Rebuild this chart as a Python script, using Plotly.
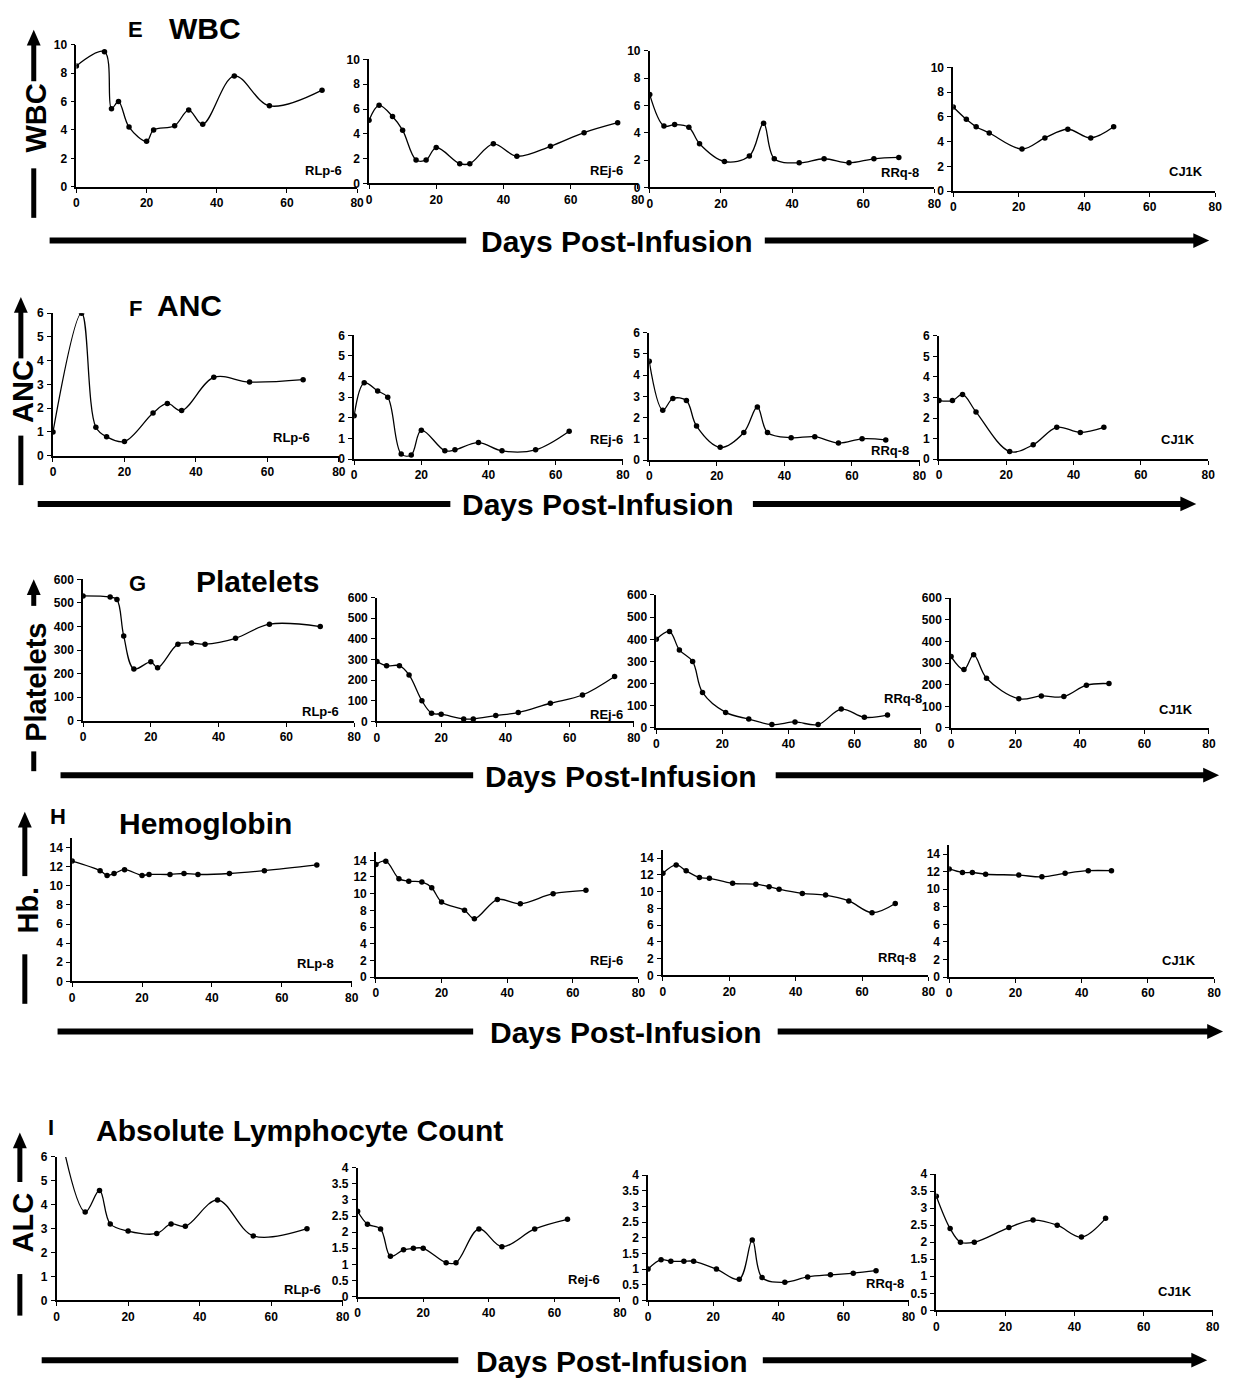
import plotly.graph_objects as go

W, H = 1237, 1383

# ---------------- DATA ----------------
days_rlp = [0, 8, 10, 12, 15, 20, 22, 28, 32, 36, 45, 55, 70]
days_rlp_short = [0, 8, 12, 15, 20, 28, 32, 36, 45, 55, 70]
days_rej14 = [0, 3, 7, 10, 14, 17, 20, 27, 30, 37, 44, 54, 64, 74]
days_rej13 = [0, 3, 7, 10, 14, 17, 20, 27, 30, 37, 44, 54, 64]
days_rrq = [0, 4, 7, 11, 14, 21, 28, 32, 35, 42, 49, 56, 63, 70]
days_rrq_plt = [0, 4, 7, 11, 14, 21, 28, 35, 42, 49, 56, 63, 70]
days_cj1k = [0, 4, 7, 11, 21, 28, 35, 42, 49]

# E  WBC
wbc_rlp = [8.5, 9.5, 5.5, 6.0, 4.2, 3.2, 4.0, 4.3, 5.4, 4.4, 7.8, 5.7, 6.8]
wbc_rej = [5.1, 6.3, 5.4, 4.3, 1.9, 1.9, 2.9, 1.6, 1.6, 3.2, 2.2, 3.0, 4.1, 4.9]
wbc_rrq = [6.8, 4.5, 4.6, 4.4, 3.2, 1.9, 2.3, 4.7, 2.1, 1.8, 2.1, 1.8, 2.1, 2.2]
wbc_cj1k = [6.8, 5.8, 5.2, 4.7, 3.4, 4.3, 5.0, 4.3, 5.2]

# F  ANC
anc_rlp = [1.0, 6.0, 1.2, 0.8, 0.6, 1.8, 2.2, 1.9, 3.3, 3.1, 3.2]
anc_rej = [2.1, 3.7, 3.3, 3.0, 0.25, 0.2, 1.4, 0.4, 0.45, 0.8, 0.4, 0.45, 1.35]
anc_rrq = [4.65, 2.35, 2.9, 2.8, 1.6, 0.6, 1.3, 2.5, 1.3, 1.05, 1.1, 0.8, 1.0, 0.95]
anc_cj1k = [2.85, 2.85, 3.15, 2.3, 0.37, 0.7, 1.55, 1.3, 1.55]

# G  Platelets
plt_rlp = [530, 525, 515, 360, 220, 250, 225, 325, 330, 325, 350, 410, 400]
plt_rej = [290, 270, 270, 225, 100, 40, 35, 12, 12, 28, 43, 88, 128, 218]
plt_rrq = [400, 435, 352, 300, 160, 70, 40, 15, 27, 15, 85, 48, 58]
plt_cj1k = [330, 270, 338, 230, 135, 148, 145, 198, 205]

# H  Hemoglobin
hb_rlp = [12.6, 11.6, 11.1, 11.3, 11.7, 11.1, 11.2, 11.2, 11.3, 11.2, 11.3, 11.6, 12.2]
hb_rej = [13.5, 13.9, 11.8, 11.5, 11.4, 10.7, 9.0, 8.0, 7.0, 9.3, 8.8, 10.0, 10.4]
hb_rrq = [12.2, 13.2, 12.5, 11.7, 11.6, 11.0, 10.9, 10.6, 10.3, 9.8, 9.6, 8.9, 7.5, 8.6]
hb_cj1k = [12.3, 11.9, 11.9, 11.7, 11.6, 11.4, 11.8, 12.1, 12.1]

# I  ALC
alc_rlp = [7.8, 3.7, 4.6, 3.2, 2.9, 2.8, 3.2, 3.1, 4.2, 2.7, 3.0]
alc_rej = [2.65, 2.25, 2.1, 1.25, 1.45, 1.5, 1.5, 1.05, 1.05, 2.1, 1.55, 2.1, 2.4]
alc_rrq = [1.0, 1.3, 1.25, 1.25, 1.25, 1.0, 0.68, 1.93, 0.73, 0.58, 0.75, 0.82, 0.87, 0.95]
alc_cj1k = [3.35, 2.4, 2.0, 2.0, 2.43, 2.65, 2.5, 2.15, 2.7]

x_ticks = [0, 20, 40, 60, 80]
wbc_ticks = [0, 2, 4, 6, 8, 10]
anc_ticks = [0, 1, 2, 3, 4, 5, 6]
plt_ticks = [0, 100, 200, 300, 400, 500, 600]
hb_ticks = [0, 2, 4, 6, 8, 10, 12, 14]
alc6_ticks = [0, 1, 2, 3, 4, 5, 6]
alc4_ticks = [0, 0.5, 1, 1.5, 2, 2.5, 3, 3.5, 4]

rows = [
    [(days_rlp, wbc_rlp, "RLp-6"), (days_rej14, wbc_rej, "REj-6"),
     (days_rrq, wbc_rrq, "RRq-8"), (days_cj1k, wbc_cj1k, "CJ1K")],
    [(days_rlp_short, anc_rlp, "RLp-6"), (days_rej13, anc_rej, "REj-6"),
     (days_rrq, anc_rrq, "RRq-8"), (days_cj1k, anc_cj1k, "CJ1K")],
    [(days_rlp, plt_rlp, "RLp-6"), (days_rej14, plt_rej, "REj-6"),
     (days_rrq_plt, plt_rrq, "RRq-8"), (days_cj1k, plt_cj1k, "CJ1K")],
    [(days_rlp, hb_rlp, "RLp-8"), (days_rej13, hb_rej, "REj-6"),
     (days_rrq, hb_rrq, "RRq-8"), (days_cj1k, hb_cj1k, "CJ1K")],
    [(days_rlp_short, alc_rlp, "RLp-6"), (days_rej13, alc_rej, "Rej-6"),
     (days_rrq, alc_rrq, "RRq-8"), (days_cj1k, alc_cj1k, "CJ1K")],
]
row_yticks = [
    [wbc_ticks] * 4,
    [anc_ticks] * 4,
    [plt_ticks] * 4,
    [hb_ticks] * 4,
    [alc6_ticks, alc4_ticks, alc4_ticks, alc4_ticks],
]
row_ymax = [
    [10] * 4,
    [6] * 4,
    [600] * 4,
    [15] * 4,
    [6, 4, 4, 4],
]
row_letters = ["E", "F", "G", "H", "I"]
row_titles = ["WBC", "ANC", "Platelets", "Hemoglobin", "Absolute Lymphocyte Count"]
side_labels = ["WBC", "ANC", "Platelets", "Hb.", "ALC"]
x_label = "Days Post-Infusion"

# ---------------- LAYOUT GEOMETRY (pixels) ----------------
panel_px = [
    [(74, 357, 38, 181.7), (369, 640, 53, 178.3), (652, 939, 44.3, 182.3), (958, 1222, 61, 186)],
    [(50.4, 338.6, 309.3, 453.3), (354, 625, 331.7, 456.7), (651.5, 924, 329, 457.7), (943.6, 1215, 332.3, 456.7)],
    [(80.7, 354, 578.3, 721), (377, 636, 596.7, 721.7), (658.6, 925, 594, 728.3), (955.8, 1215.7, 597.3, 728.3)],
    [(69.7, 351.6, 839.7, 984.3), (376, 640.6, 853.6, 980), (665.3, 933, 851.5, 978.3), (953.9, 1221, 846.8, 980)],
    [(54, 342.5, 1161.7, 1306.7), (357.5, 622, 1172.7, 1302.7), (650.3, 913, 1180, 1306.7), (940.9, 1219.6, 1179, 1316.7)],
]
label_px = [
    [(323, 165), (608, 165), (904, 167), (1193, 166)],
    [(291, 435), (608, 437), (894, 448), (1185, 437)],
    [(320, 712), (608, 715), (907, 699), (1183, 710)],
    [(315, 966), (608, 963), (901, 960), (1186, 963)],
    [(302, 1296), (586, 1286), (889, 1290), (1182, 1298)],
]
letter_px = [(134, 23), (134, 305), (136, 582), (55, 818), (48, 1132)]
title_px = [(204, 22), (188, 302), (257, 580), (204, 825), (299, 1135)]
bar_px = [
    (236, 47, 467, 619, 768, 1216),
    (502, 35, 451, 600, 756, 1203),
    (776, 58, 474, 623, 779, 1226),
    (1035, 55, 474, 628, 781, 1230),
    (1367, 39, 459, 614, 766, 1214),
]
side_px = [
    (31, 33, 112, 75, 23, 163, 213),
    (18, 20, 388, 355, 293, 433, 483),
    (31, 33, 682, 605, 578, 752, 772),
    (22, 25, 912, 878, 813, 957, 1007),
    (17, 20, 1228, 1187, 1137, 1280, 1322),
]

FONT = "Liberation Sans, Arial, Helvetica, sans-serif"


def px(x):
    return x / W


def py(y):
    return 1 - y / H


def text_ann(x, y, text, size, angle=0):
    return dict(x=px(x), y=py(y), xref="paper", yref="paper", text=f"<b>{text}</b>",
                showarrow=False, xanchor="center", yanchor="middle", textangle=angle,
                font=dict(size=size, family=FONT, color="black"))


fig = go.Figure()
layout = dict(
    width=W, height=H, margin=dict(l=0, r=0, t=0, b=0),
    paper_bgcolor="white", plot_bgcolor="white", showlegend=False,
    font=dict(family=FONT, color="black"),
)
annotations = []
shapes = []

k = 0
for r, row in enumerate(rows):
    for c, (days, vals, lab) in enumerate(row):
        k += 1
        xa = "xaxis" if k == 1 else f"xaxis{k}"
        ya = "yaxis" if k == 1 else f"yaxis{k}"
        xr = "x" if k == 1 else f"x{k}"
        yr = "y" if k == 1 else f"y{k}"
        x0, x1, yt, yb = panel_px[r][c]
        fig.add_trace(go.Scatter(
            x=days, y=vals, mode="lines+markers", xaxis=xr, yaxis=yr,
            line=dict(color="black", width=1.3, shape="spline", smoothing=1.0),
            marker=dict(color="black", size=5.5),
            hoverinfo="skip",
        ))
        common = dict(showline=True, linecolor="black", linewidth=1.6,
                      ticks="outside", ticklen=4, tickwidth=1.3, tickcolor="black",
                      showgrid=False, zeroline=False,
                      tickfont=dict(family=FONT, size=12, color="black", weight="bold"))
        layout[xa] = dict(domain=[px(x0), px(x1)], range=[0, 80], anchor=yr,
                          tickvals=x_ticks, ticklabelstandoff=0, **common)
        layout[ya] = dict(domain=[py(yb), py(yt)], range=[0, row_ymax[r][c]], anchor=xr,
                          tickvals=row_yticks[r][c], ticklabelstandoff=1, **common)
        lx, ly = label_px[r][c]
        annotations.append(text_ann(lx, ly, lab, 13))

    lx, ly = letter_px[r]
    annotations.append(text_ann(lx, ly, row_letters[r], 22))
    tx, ty = title_px[r]
    annotations.append(text_ann(tx, ty, row_titles[r], 30))

    # days bar
    by, lx0, lx1, tcx, rx0, tip = bar_px[r]
    shapes.append(dict(type="line", xref="paper", yref="paper",
                       x0=px(lx0), x1=px(lx1), y0=py(by), y1=py(by),
                       line=dict(color="black", width=6)))
    shapes.append(dict(type="line", xref="paper", yref="paper",
                       x0=px(rx0), x1=px(tip - 14), y0=py(by), y1=py(by),
                       line=dict(color="black", width=6)))
    shapes.append(dict(type="path", xref="paper", yref="paper",
                       path=f"M {px(tip)},{py(by)} L {px(tip-16)},{py(by-7.5)} L {px(tip-16)},{py(by+7.5)} Z",
                       fillcolor="black", line=dict(color="black", width=0)))
    annotations.append(text_ann(tcx, by + 1, x_label, 30))

    # side label with arrow
    sx, stx, sty, ab, at, lt, lb = side_px[r]
    shapes.append(dict(type="line", xref="paper", yref="paper",
                       x0=px(sx), x1=px(sx), y0=py(ab), y1=py(at + 14),
                       line=dict(color="black", width=5)))
    shapes.append(dict(type="path", xref="paper", yref="paper",
                       path=f"M {px(sx)},{py(at)} L {px(sx-7)},{py(at+16)} L {px(sx+7)},{py(at+16)} Z",
                       fillcolor="black", line=dict(color="black", width=0)))
    shapes.append(dict(type="line", xref="paper", yref="paper",
                       x0=px(sx), x1=px(sx), y0=py(lt), y1=py(lb),
                       line=dict(color="black", width=5)))
    annotations.append(text_ann(stx, sty, side_labels[r], 29, angle=-90))

layout["annotations"] = annotations
layout["shapes"] = shapes
fig.update_layout(**layout)
fig.write_html("out.html")
